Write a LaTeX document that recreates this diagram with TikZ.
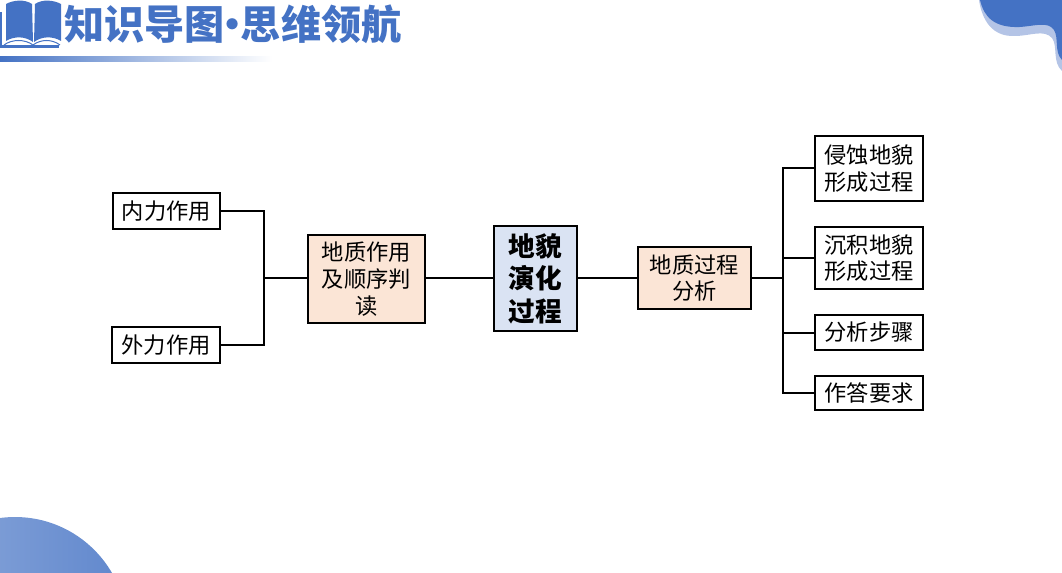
\documentclass[tikz,border=0pt]{standalone}
\usepackage{fontspec}
\setmainfont{Noto Sans CJK SC}
\usepackage{xcolor}
\usepackage{tikz}
\usetikzlibrary{positioning,calc}
\definecolor{inkblack}{HTML}{000000}
\definecolor{peach}{HTML}{FBE5D6}
\definecolor{paleblue}{HTML}{DAE3F3}
\definecolor{titleblue}{HTML}{4472C4}
\definecolor{waveblue}{HTML}{B4C4E6}
\tikzset{x=0.75pt,y=-0.75pt,
  leaf/.style={draw=inkblack,fill=white,line width=1.5pt,align=center,inner sep=0pt,
    font=\fontsize{16.7}{20}\selectfont},
  midbox/.style={leaf,fill=peach},
  rootbox/.style={leaf,fill=paleblue,font=\fontsize{20}{24.4}\selectfont\bfseries},
  link/.style={line width=1.5pt,draw=inkblack}}
\begin{document}
\begin{tikzpicture}
 \useasboundingbox (0,0) rectangle (1062,573);
 % corners
 \begin{scope}
  \clip (0,0) rectangle (1062,573);
  \shade[left color=titleblue!60,right color=titleblue!85] (15,629) circle (112);
  \fill[waveblue] (979,0) .. controls (982,20) and (992,37) .. (1015,36)
    .. controls (1030,36) and (1044,29) .. (1052,38)
    .. controls (1058,46) and (1052,62) .. (1062,71) -- (1062,0) -- cycle;
  \fill[titleblue] (980,0) .. controls (984,17) and (994,28) .. (1020,27)
    .. controls (1035,26) and (1048,21) .. (1054,30)
    .. controls (1059,38) and (1054,52) .. (1062,60) -- (1062,0) -- cycle;
 \end{scope}
 % heading
 \fill[titleblue] (0,12) rectangle (2,48);
 \fill[titleblue] (0,45) rectangle (59,48);
 \fill[titleblue] (6,4) .. controls (13,0) and (25,-1) .. (32,4) -- (33,42)
    .. controls (25,36) and (14,36) .. (6,41) -- cycle;
 \fill[titleblue] (35,4) .. controls (42,-1) and (54,0) .. (61,4) -- (61,41)
    .. controls (53,36) and (42,36) .. (34,42) -- cycle;
 \draw[titleblue,line width=0.75pt] (4,45) .. controls (12,39) and (25,39) .. (33,45)
    .. controls (41,39) and (52,39) .. (60,45);
 \shade[left color=titleblue,right color=white] (0,57) rectangle (272,62);
 \node[font=\fontsize{30.1}{32}\selectfont\bfseries,text=titleblue,anchor=west,inner sep=0pt] (title) at (64,24)
   {知识导图\hspace{-9pt}·\hspace{-9pt}思维领航};
 % boxes
 \node[leaf,minimum width=80.25pt,minimum height=27pt] (inner) at (166.5,211) {内力作用};
 \node[leaf,minimum width=81pt,minimum height=27pt] (outer) at (166,345) {外力作用};
 \node[midbox,minimum width=87.75pt,minimum height=66pt] (order) at (366.5,279) {地质作用\\及顺序判\\读};
 \node[rootbox,minimum width=62.25pt,minimum height=78.75pt] (root) at (535.5,278.5) {地貌\\演化\\过程};
 \node[midbox,minimum width=84.75pt,minimum height=46.5pt] (process) at (694.5,278) {地质过程\\分析};
 \node[leaf,minimum width=81pt,minimum height=48.75pt] (erosion) at (869,168.5) {侵蚀地貌\\形成过程};
 \node[leaf,minimum width=81pt,minimum height=46.5pt] (deposit) at (869,258) {沉积地貌\\形成过程};
 \node[leaf,minimum width=81pt,minimum height=26.25pt] (steps) at (869,332.5) {分析步骤};
 \node[leaf,minimum width=81pt,minimum height=25.5pt] (answer) at (869,393) {作答要求};
 % buses
 \coordinate (lbus) at (264,278);
 \coordinate (rbus) at (783,278);
 \draw[link] (inner.east) -| (lbus);
 \draw[link] (outer.east) -| (lbus);
 \draw[link] (lbus) -- (lbus-|order.west);
 \draw[link] (lbus-|order.east) -- (lbus-|root.west);
 \draw[link] (lbus-|root.east) -- (process.west);
 \draw[link] (process.east) -- (rbus);
 \draw[link] (erosion.west) -| (rbus);
 \draw[link] (deposit.west) -| (rbus);
 \draw[link] (steps.west) -| (rbus);
 \draw[link] (answer.west) -| (rbus);
\end{tikzpicture}
\end{document}
